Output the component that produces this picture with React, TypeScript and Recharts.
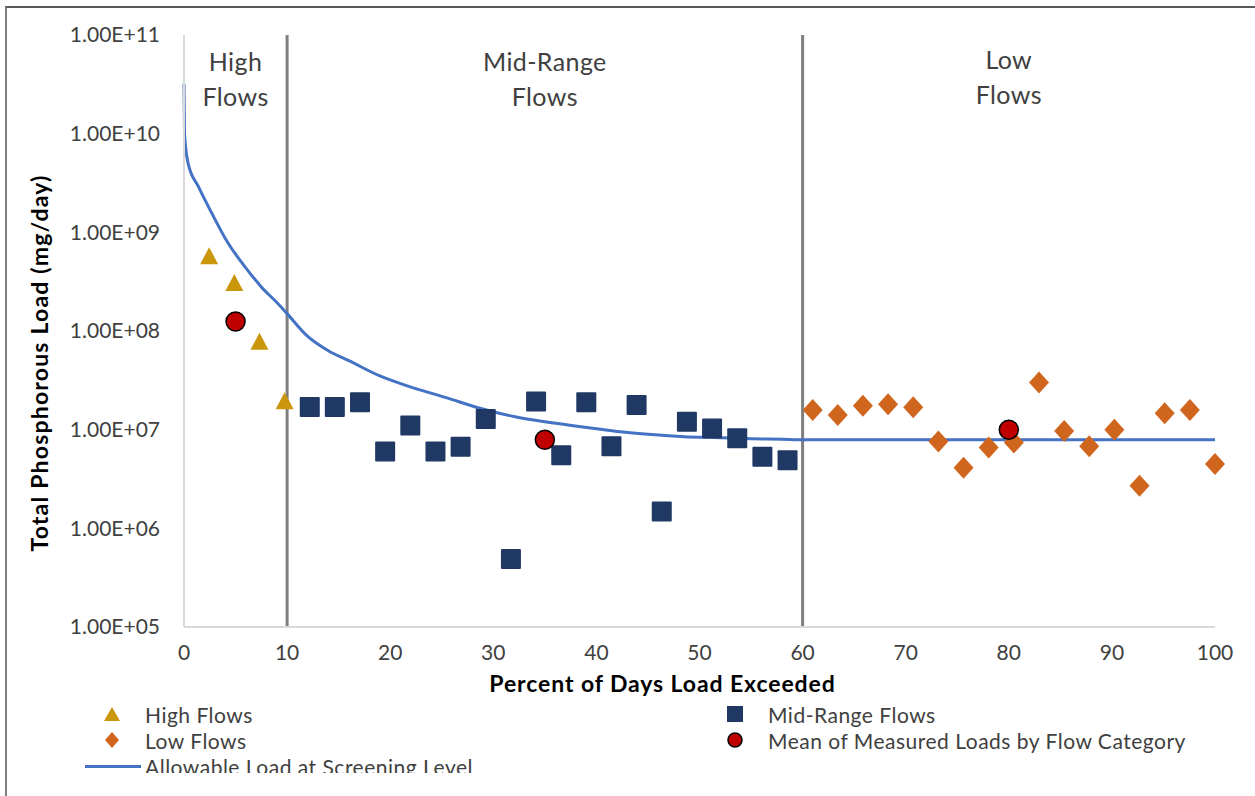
import React from "react";
import {
  ComposedChart,
  Scatter,
  Line,
  XAxis,
  YAxis,
  ReferenceLine,
  ReferenceArea,
} from "recharts";

// values
const highX = [2.44, 4.88, 7.32, 9.76];
const highY = [5.6e8, 3.0e8, 7.6e7, 1.9e7];

const midX = [
  12.2, 14.63, 17.07, 19.51, 21.95, 24.39, 26.83, 29.27, 31.71, 34.15,
  36.59, 39.02, 41.46, 43.9, 46.34, 48.78, 51.22, 53.66, 56.1, 58.54,
];
const midY = [
  1.7e7, 1.7e7, 1.9e7, 6.0e6, 1.1e7, 6.0e6, 6.7e6, 1.28e7, 4.9e5, 1.93e7,
  5.5e6, 1.9e7, 6.8e6, 1.78e7, 1.48e6, 1.2e7, 1.03e7, 8.2e6, 5.3e6, 4.9e6,
];

const lowX = [
  60.98, 63.41, 65.85, 68.29, 70.73, 73.17, 75.61, 78.05, 80.49, 82.93,
  85.37, 87.8, 90.24, 92.68, 95.12, 97.56, 100,
];
const lowY = [
  1.58e7, 1.41e7, 1.75e7, 1.81e7, 1.69e7, 7.6e6, 4.1e6, 6.6e6, 7.4e6, 3.0e7,
  9.7e6, 6.8e6, 1.0e7, 2.7e6, 1.47e7, 1.58e7, 4.5e6,
];

const meanX = [5, 35, 80];
const meanY = [1.25e8, 7.9e6, 1.0e7];

// allowable load at screening level
const curveX = [
  0, 0.05, 0.4, 1.4, 2.7, 4.3, 5.9, 7.5, 9.1, 10, 12, 14, 16, 19, 22, 25.5,
  28.7, 32, 35, 38.5, 42, 45, 48.5, 52, 55, 58, 60, 100,
];
const curveY = [
  3.2e10, 1.0e10, 5.0e9, 2.9e9, 1.56e9, 7.7e8, 4.5e8, 2.8e8, 1.9e8, 1.5e8,
  8.8e7, 6.3e7, 5.0e7, 3.5e7, 2.7e7, 2.1e7, 1.65e7, 1.36e7, 1.2e7, 1.07e7,
  9.6e6, 9.0e6, 8.5e6, 8.3e6, 8.1e6, 8.0e6, 7.9e6, 7.9e6,
];

const xTicks = [0, 10, 20, 30, 40, 50, 60, 70, 80, 90, 100];
const yTicks = [1e5, 1e6, 1e7, 1e8, 1e9, 1e10, 1e11];

const zones = [
  { from: 0, to: 10, lines: ["High", "Flows"], shift: 0 },
  { from: 10, to: 60, lines: ["Mid-Range", "Flows"], shift: 0 },
  { from: 60, to: 100, lines: ["Low", "Flows"], shift: -2 },
];

const COLORS = {
  high: "#C9960C",
  mid: "#1F3864",
  low: "#D0661E",
  mean: "#C00000",
  line: "#4472C4",
};

const FONT = "Lato, 'Open Sans', sans-serif";
const TEXT = "#404040";

const toPts = (xs: number[], ys: number[]) => xs.map((x, i) => ({ x, y: ys[i] }));
const highData = toPts(highX, highY);
const midData = toPts(midX, midY);
const lowData = toPts(lowX, lowY);
const meanData = toPts(meanX, meanY);
const curveData = toPts(curveX, curveY);

const fmtSci = (v: number) => {
  const e = Math.round(Math.log10(v));
  return `1.00E+${String(e).padStart(2, "0")}`;
};

function Triangle({ cx, cy }: any) {
  return <polygon points={`${cx},${cy - 10} ${cx - 9},${cy + 7} ${cx + 9},${cy + 7}`} fill={COLORS.high} />;
}
function Square({ cx, cy }: any) {
  return <rect x={cx - 10} y={cy - 10} width={20} height={20} fill={COLORS.mid} rx={1} />;
}
function Diamond({ cx, cy }: any) {
  return <polygon points={`${cx},${cy - 11} ${cx + 10},${cy} ${cx},${cy + 11} ${cx - 10},${cy}`} fill={COLORS.low} />;
}
function Dot({ cx, cy }: any) {
  return <circle cx={cx} cy={cy} r={9.5} fill={COLORS.mean} stroke="#000" strokeWidth={1.5} />;
}

function zoneLabel(lines: string[], shift: number) {
  return (props: any) => {
    const vb = props.viewBox;
    const cx = vb.x + vb.width / 2;
    return (
      <text textAnchor="middle" fontFamily={FONT} fontSize={25} letterSpacing={0.4} fill={TEXT}>
        <tspan x={cx} y={vb.y + 36 + shift}>{lines[0]}</tspan>
        <tspan x={cx} y={vb.y + 71 + shift}>{lines[1]}</tspan>
      </text>
    );
  };
}

function YTitle(props: any) {
  const vb = props.viewBox;
  const x = vb.x - 32;
  const y = vb.y + vb.height / 2 + 32;
  return (
    <text
      x={x}
      y={y}
      transform={`rotate(-90 ${x} ${y})`}
      textAnchor="middle"
      dominantBaseline="middle"
      fontFamily={FONT}
      fontWeight="bold"
      fontSize={23}
      letterSpacing={1.2}
      fill="#000"
    >
      Total Phosphorous Load (mg/day)
    </text>
  );
}

function XTitle(props: any) {
  const vb = props.viewBox;
  return (
    <text
      x={vb.x + vb.width / 2 - 37}
      y={vb.y + 59}
      textAnchor="middle"
      dominantBaseline="middle"
      fontFamily={FONT}
      fontWeight="bold"
      fontSize={23}
      letterSpacing={0.9}
      fill="#000"
    >
      Percent of Days Load Exceeded
    </text>
  );
}

const legendRows = [
  { name: "High Flows", mark: "tri", left: 100 },
  { name: "Mid-Range Flows", mark: "sq", left: 723 },
  { name: "Low Flows", mark: "dia", left: 100 },
  { name: "Mean of Measured Loads by Flow Category", mark: "dot", left: 723 },
];

function LegendMark({ mark }: { mark: string }) {
  return (
    <svg width={24} height={20} style={{ display: "block" }}>
      {mark === "tri" && <polygon points="12,3 4,17 20,17" fill={COLORS.high} />}
      {mark === "sq" && <rect x={4} y={2} width={16} height={16} fill={COLORS.mid} />}
      {mark === "dia" && <polygon points="12,2 19,10 12,18 5,10" fill={COLORS.low} />}
      {mark === "dot" && <circle cx={12} cy={10} r={7} fill={COLORS.mean} stroke="#000" strokeWidth={1.5} />}
    </svg>
  );
}

export default function App() {
  return (
    <div style={{ position: "absolute", left: 0, top: 0, width: 1255, height: 796, background: "#fff", overflow: "hidden" }}>
      {/* frame */}
      <div style={{ position: "absolute", left: 5, top: 6, width: 1248, height: 820, borderTop: "2px solid #595959", borderLeft: "2px solid #7f7f7f", borderRight: "1px solid #d0d0d0" }} />
      <div style={{ position: "absolute", left: 0, top: 0 }}>
        <ComposedChart width={1255} height={796} margin={{ top: 35, right: 40, left: 74, bottom: 97 }}>
          <XAxis
            type="number"
            dataKey="x"
            domain={[0, 100]}
            ticks={xTicks}
            height={72}
            tickLine={false}
            tickMargin={12}
            axisLine={{ stroke: "#d9d9d9", strokeWidth: 2 }}
            tick={{ fontSize: 21, fill: TEXT, fontFamily: FONT }}
            label={{ content: XTitle }}
          />
          <YAxis
            type="number"
            dataKey="y"
            scale="log"
            domain={[1e5, 1e11]}
            allowDataOverflow
            ticks={yTicks}
            width={110}
            tickLine={false}
            tickMargin={18}
            tickFormatter={fmtSci}
            axisLine={{ stroke: "#d9d9d9", strokeWidth: 2 }}
            tick={{ fontSize: 21, fill: TEXT, fontFamily: FONT }}
            label={{ content: YTitle }}
          />
          {zones.map((z) => (
            <ReferenceArea
              key={z.lines[0]}
              x1={z.from}
              x2={z.to}
              fill="none"
              fillOpacity={0}
              stroke="none"
              label={{ content: zoneLabel(z.lines, z.shift) }}
            />
          ))}
          <ReferenceLine x={10} stroke="#7f7f7f" strokeWidth={3} />
          <ReferenceLine x={60} stroke="#7f7f7f" strokeWidth={3} />
          <Line
            data={curveData}
            dataKey="y"
            type="monotone"
            stroke={COLORS.line}
            strokeWidth={3}
            dot={false}
            activeDot={false}
            isAnimationActive={false}
          />
          <Scatter data={highData} dataKey="y" shape={Triangle} isAnimationActive={false} />
          <Scatter data={midData} dataKey="y" shape={Square} isAnimationActive={false} />
          <Scatter data={lowData} dataKey="y" shape={Diamond} isAnimationActive={false} />
          <Scatter data={meanData} dataKey="y" shape={Dot} isAnimationActive={false} />
        </ComposedChart>
      </div>
      {/* legend, cut off at the bottom like the source image */}
      <div style={{ position: "absolute", left: 0, top: 701, width: 1255, height: 72, overflow: "hidden", fontFamily: FONT, fontSize: 21, letterSpacing: 0.5, color: TEXT }}>
        {legendRows.map((r, i) => (
          <div
            key={r.name}
            style={{ position: "absolute", left: r.left, top: Math.floor(i / 2) * 26, height: 26, display: "flex", alignItems: "center", gap: 21, whiteSpace: "nowrap" }}
          >
            <LegendMark mark={r.mark} />
            <span>{r.name}</span>
          </div>
        ))}
        <div style={{ position: "absolute", left: 85, top: 52, height: 26, display: "flex", alignItems: "center", gap: 4, whiteSpace: "nowrap" }}>
          <div style={{ width: 56, height: 3, background: COLORS.line }} />
          <span>Allowable Load at Screening Level</span>
        </div>
      </div>
    </div>
  );
}
